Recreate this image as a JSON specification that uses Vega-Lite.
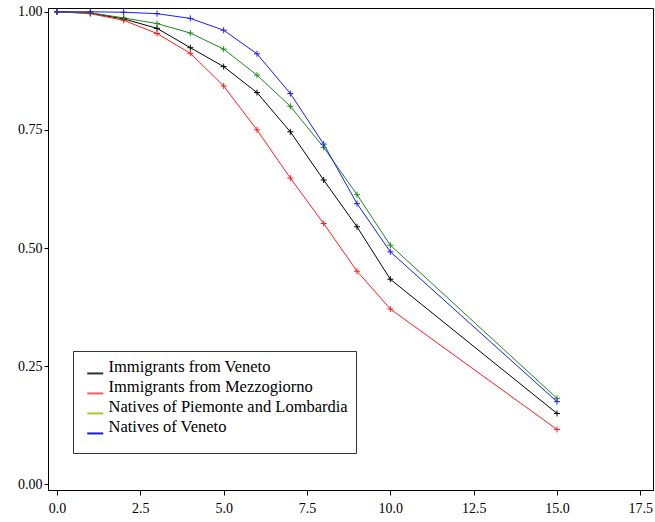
{
  "$schema": "https://vega.github.io/schema/vega-lite/v6.json",
  "width": 605,
  "height": 482,
  "autosize": {"type": "none"},
  "padding": {"left": 48, "top": 8, "right": 2, "bottom": 32},
  "background": "white",
  "config": {
    "view": {"stroke": "black", "strokeWidth": 1},
    "axis": {
      "grid": false,
      "domainColor": "black",
      "tickColor": "black",
      "labelColor": "black",
      "labelFont": "Liberation Serif",
      "labelFontSize": 14,
      "title": null
    }
  },
  "data": {
    "values": [
      {"t": 0, "g": "Immigrants from Veneto", "s": 1.0},
      {"t": 1, "g": "Immigrants from Veneto", "s": 0.997},
      {"t": 2, "g": "Immigrants from Veneto", "s": 0.985},
      {"t": 3, "g": "Immigrants from Veneto", "s": 0.965},
      {"t": 4, "g": "Immigrants from Veneto", "s": 0.924},
      {"t": 5, "g": "Immigrants from Veneto", "s": 0.884},
      {"t": 6, "g": "Immigrants from Veneto", "s": 0.829},
      {"t": 7, "g": "Immigrants from Veneto", "s": 0.746},
      {"t": 8, "g": "Immigrants from Veneto", "s": 0.644},
      {"t": 9, "g": "Immigrants from Veneto", "s": 0.545},
      {"t": 10, "g": "Immigrants from Veneto", "s": 0.434},
      {"t": 15, "g": "Immigrants from Veneto", "s": 0.150},
      {"t": 0, "g": "Immigrants from Mezzogiorno", "s": 1.0},
      {"t": 1, "g": "Immigrants from Mezzogiorno", "s": 0.996},
      {"t": 2, "g": "Immigrants from Mezzogiorno", "s": 0.982},
      {"t": 3, "g": "Immigrants from Mezzogiorno", "s": 0.954},
      {"t": 4, "g": "Immigrants from Mezzogiorno", "s": 0.912},
      {"t": 5, "g": "Immigrants from Mezzogiorno", "s": 0.843},
      {"t": 6, "g": "Immigrants from Mezzogiorno", "s": 0.750},
      {"t": 7, "g": "Immigrants from Mezzogiorno", "s": 0.648},
      {"t": 8, "g": "Immigrants from Mezzogiorno", "s": 0.552},
      {"t": 9, "g": "Immigrants from Mezzogiorno", "s": 0.451},
      {"t": 10, "g": "Immigrants from Mezzogiorno", "s": 0.371},
      {"t": 15, "g": "Immigrants from Mezzogiorno", "s": 0.116},
      {"t": 0, "g": "Natives of Piemonte and Lombardia", "s": 1.0},
      {"t": 1, "g": "Natives of Piemonte and Lombardia", "s": 0.998},
      {"t": 2, "g": "Natives of Piemonte and Lombardia", "s": 0.987},
      {"t": 3, "g": "Natives of Piemonte and Lombardia", "s": 0.975},
      {"t": 4, "g": "Natives of Piemonte and Lombardia", "s": 0.955},
      {"t": 5, "g": "Natives of Piemonte and Lombardia", "s": 0.921},
      {"t": 6, "g": "Natives of Piemonte and Lombardia", "s": 0.866},
      {"t": 7, "g": "Natives of Piemonte and Lombardia", "s": 0.800},
      {"t": 8, "g": "Natives of Piemonte and Lombardia", "s": 0.713},
      {"t": 9, "g": "Natives of Piemonte and Lombardia", "s": 0.613},
      {"t": 10, "g": "Natives of Piemonte and Lombardia", "s": 0.506},
      {"t": 15, "g": "Natives of Piemonte and Lombardia", "s": 0.182},
      {"t": 0, "g": "Natives of Veneto", "s": 1.0},
      {"t": 1, "g": "Natives of Veneto", "s": 1.0},
      {"t": 2, "g": "Natives of Veneto", "s": 0.999},
      {"t": 3, "g": "Natives of Veneto", "s": 0.996},
      {"t": 4, "g": "Natives of Veneto", "s": 0.986},
      {"t": 5, "g": "Natives of Veneto", "s": 0.961},
      {"t": 6, "g": "Natives of Veneto", "s": 0.911},
      {"t": 7, "g": "Natives of Veneto", "s": 0.827},
      {"t": 8, "g": "Natives of Veneto", "s": 0.720},
      {"t": 9, "g": "Natives of Veneto", "s": 0.594},
      {"t": 10, "g": "Natives of Veneto", "s": 0.492},
      {"t": 15, "g": "Natives of Veneto", "s": 0.175}
    ]
  },
  "encoding": {
    "x": {
      "field": "t",
      "type": "quantitative",
      "scale": {"domain": [-0.27, 17.88], "nice": false, "zero": false},
      "axis": {"values": [0, 2.5, 5, 7.5, 10, 12.5, 15, 17.5], "format": ".1f", "tickSize": 5, "labelPadding": 6, "labelFlush": false}
    },
    "y": {
      "field": "s",
      "type": "quantitative",
      "scale": {"domain": [-0.012, 1.008], "nice": false, "zero": false},
      "axis": {"values": [0, 0.25, 0.5, 0.75, 1], "format": ".2f", "tickSize": 4, "labelPadding": 2, "labelFlush": false}
    }
  },
  "layer": [
    {
      "mark": {"type": "point", "filled": true, "opacity": 0, "size": 0},
      "encoding": {
        "fill": {
          "field": "g",
          "type": "nominal",
          "scale": {
            "domain": ["Immigrants from Veneto", "Immigrants from Mezzogiorno", "Natives of Piemonte and Lombardia", "Natives of Veneto"],
            "range": ["#303030", "#ff5a5a", "#9acd32", "#1a1ae6"]
          },
          "legend": {
            "orient": "none",
            "legendX": 25,
            "legendY": 343,
            "direction": "vertical",
            "title": " ",
            "titleOrient": "bottom",
            "titleFontSize": 5,
            "titlePadding": 4,
            "strokeColor": "#333333",
            "fillColor": "white",
            "padding": 8,
            "symbolOffset": 6,
            "labelFont": "Liberation Serif",
            "labelFontSize": 16.5,
            "labelColor": "black",
            "labelLimit": 400,
            "labelOffset": 5,
            "labelExpr": "datum.label + '\u00a0\u00a0\u00a0'",
            "symbolType": "M-1,0.65L1,0.65L1,0.9L-1,0.9Z",
            "symbolSize": 256,
            "symbolStrokeWidth": 0,
            "symbolOpacity": 1,
            "rowPadding": 3
          }
        }
      }
    },
    {
      "mark": {"type": "line", "strokeWidth": 1},
      "encoding": {
        "stroke": {
          "field": "g",
          "type": "nominal",
          "scale": {
            "domain": ["Immigrants from Veneto", "Immigrants from Mezzogiorno", "Natives of Piemonte and Lombardia", "Natives of Veneto"],
            "range": ["#000000", "#ff1a1a", "#1a8a1a", "#1a1aff"]
          },
          "legend": null
        }
      }
    },
    {
      "mark": {"type": "point", "shape": "M-1,0L1,0M0,-1L0,1", "size": 36, "filled": false, "strokeWidth": 1, "opacity": 1},
      "encoding": {
        "stroke": {"field": "g", "type": "nominal", "legend": null}
      }
    }
  ]
}
